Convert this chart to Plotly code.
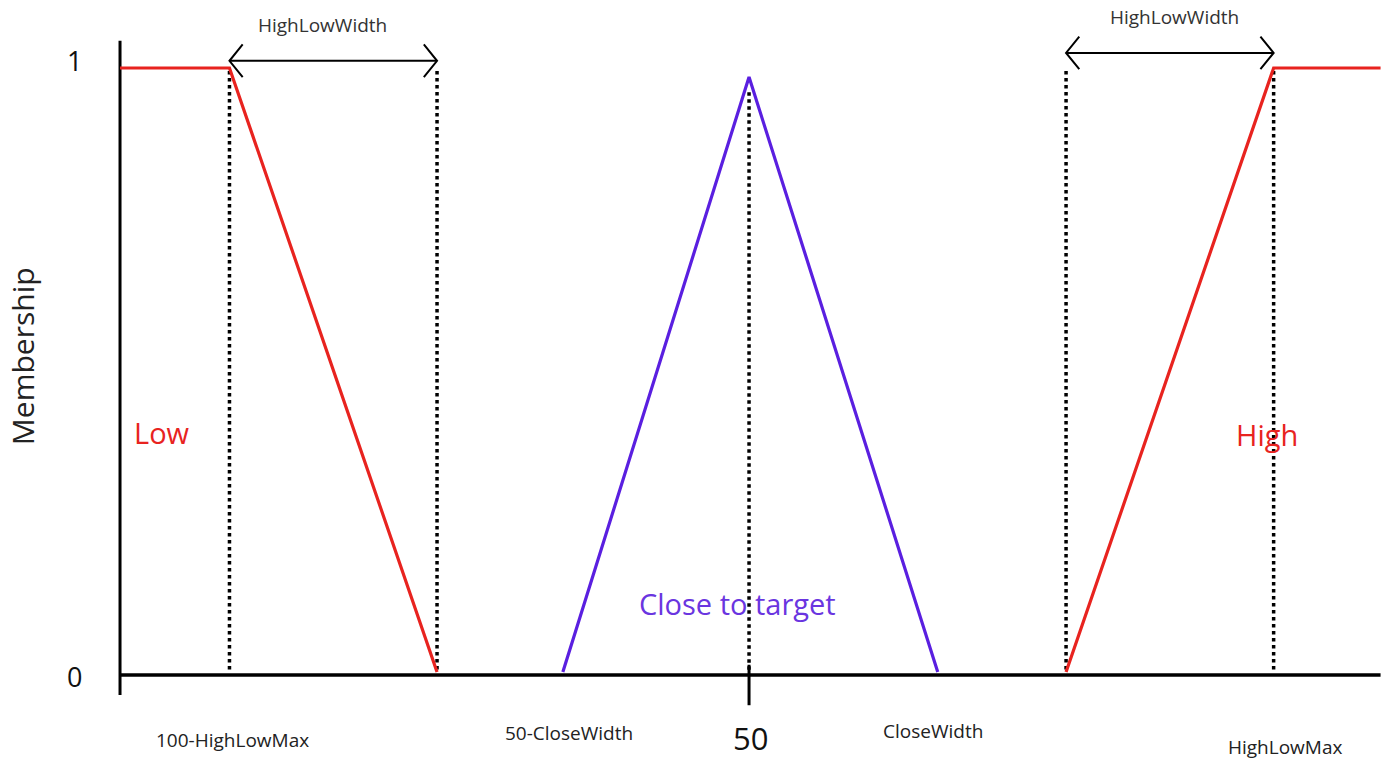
import plotly.graph_objects as go

# ---- data (diagram units: x in 0..100, membership 0..1) ----
low_x = [0, 8.7, 25.2]
low_y = [1, 1, 0]
close_x = [35.2, 50, 65.0]
close_y = [0, 0.985, 0]
high_x = [75.2, 91.7, 100.2]
high_y = [0, 1, 1]
guide_x = [8.7, 25.2, 50, 75.2, 91.7]          # dotted verticals
guide_top = [0.995, 0.995, 0.96, 0.995, 0.995]
width_arrows = [(8.7, 25.2, 1.012), (75.2, 91.7, 1.025)]
arrow_label = "HighLowWidth"
arrow_label_x = [16.1, 83.8]
arrow_label_y = [1.072, 1.085]
bottom_labels = ["100-HighLowMax", "50-CloseWidth", "CloseWidth", "HighLowMax"]
bottom_label_x = [8.98, 35.7, 64.6, 92.6]
bottom_label_y = [-0.1126, -0.101, -0.098, -0.124]

RED = "#e8231f"
PURPLE = "#5a1fe0"
FONT = "Open Sans, Liberation Sans, sans-serif"

fig = go.Figure()

# axes (drawn as lines)
fig.add_trace(go.Scatter(x=[0, 0], y=[1.045, -0.038], mode="lines",
                         line=dict(color="black", width=3), hoverinfo="skip"))
fig.add_trace(go.Scatter(x=[0, 100.2], y=[-0.005, -0.005], mode="lines",
                         line=dict(color="black", width=3.5), hoverinfo="skip"))
fig.add_trace(go.Scatter(x=[50, 50], y=[0.012, -0.055], mode="lines",
                         line=dict(color="black", width=3), hoverinfo="skip"))

# dotted guides
for gx, gt in zip(guide_x, guide_top):
    fig.add_trace(go.Scatter(x=[gx, gx], y=[gt, 0.002], mode="lines",
                             line=dict(color="black", width=3.5, dash="dot"),
                             hoverinfo="skip"))

# membership functions
fig.add_trace(go.Scatter(x=low_x, y=low_y, mode="lines",
                         line=dict(color=RED, width=3.2), hoverinfo="skip"))
fig.add_trace(go.Scatter(x=close_x, y=close_y, mode="lines",
                         line=dict(color=PURPLE, width=3.2), hoverinfo="skip"))
fig.add_trace(go.Scatter(x=high_x, y=high_y, mode="lines",
                         line=dict(color=RED, width=3.2), hoverinfo="skip"))

# double arrows with open chevrons
dx, dy = 1.05, 0.027
for (x1, x2, ya), lx, ly in zip(width_arrows, arrow_label_x, arrow_label_y):
    fig.add_trace(go.Scatter(x=[x1, x2], y=[ya, ya], mode="lines",
                             line=dict(color="black", width=2), hoverinfo="skip"))
    fig.add_trace(go.Scatter(x=[x1 + dx, x1, x1 + dx], y=[ya + dy, ya, ya - dy],
                             mode="lines", line=dict(color="black", width=2),
                             hoverinfo="skip"))
    fig.add_trace(go.Scatter(x=[x2 - dx, x2, x2 - dx], y=[ya + dy, ya, ya - dy],
                             mode="lines", line=dict(color="black", width=2),
                             hoverinfo="skip"))
    fig.add_annotation(x=lx, y=ly, text=arrow_label,
                       showarrow=False, font=dict(size=19, color="#333333", family=FONT))

# text labels
ann = [
    dict(x=-3.6, y=1.013, text="1", size=27, color="#111111"),
    dict(x=-3.6, y=-0.008, text="0", size=27, color="#111111"),
    dict(x=50.08, y=-0.109, text="50", size=31, color="#111111"),
    dict(x=3.34, y=0.397, text="Low", size=29, color=RED),
    dict(x=91.2, y=0.394, text="High", size=29, color=RED),
    dict(x=49.05, y=0.1126, text="Close to target", size=29, color="#6a35e0"),
]
for a in ann:
    fig.add_annotation(x=a["x"], y=a["y"], text=a["text"], showarrow=False,
                       font=dict(size=a["size"], color=a["color"], family=FONT))
for t, bx, by in zip(bottom_labels, bottom_label_x, bottom_label_y):
    fig.add_annotation(x=bx, y=by, text=t, showarrow=False,
                       font=dict(size=19, color="#222222", family=FONT))
fig.add_annotation(x=-7.79, y=0.523, text="Membership", textangle=-90, showarrow=False,
                   font=dict(size=30, color="#222222", family=FONT))

fig.update_layout(
    width=1389, height=760,
    margin=dict(l=0, r=0, t=0, b=0),
    paper_bgcolor="white", plot_bgcolor="white",
    showlegend=False,
    xaxis=dict(range=[-9.54, 100.87], visible=False, fixedrange=True),
    yaxis=dict(range=[-0.1457, 1.1126], visible=False, fixedrange=True),
)

fig.write_html("out.html", config={"displayModeBar": False},
               post_script="document.body.style.margin='0';document.body.style.overflow='hidden';")
